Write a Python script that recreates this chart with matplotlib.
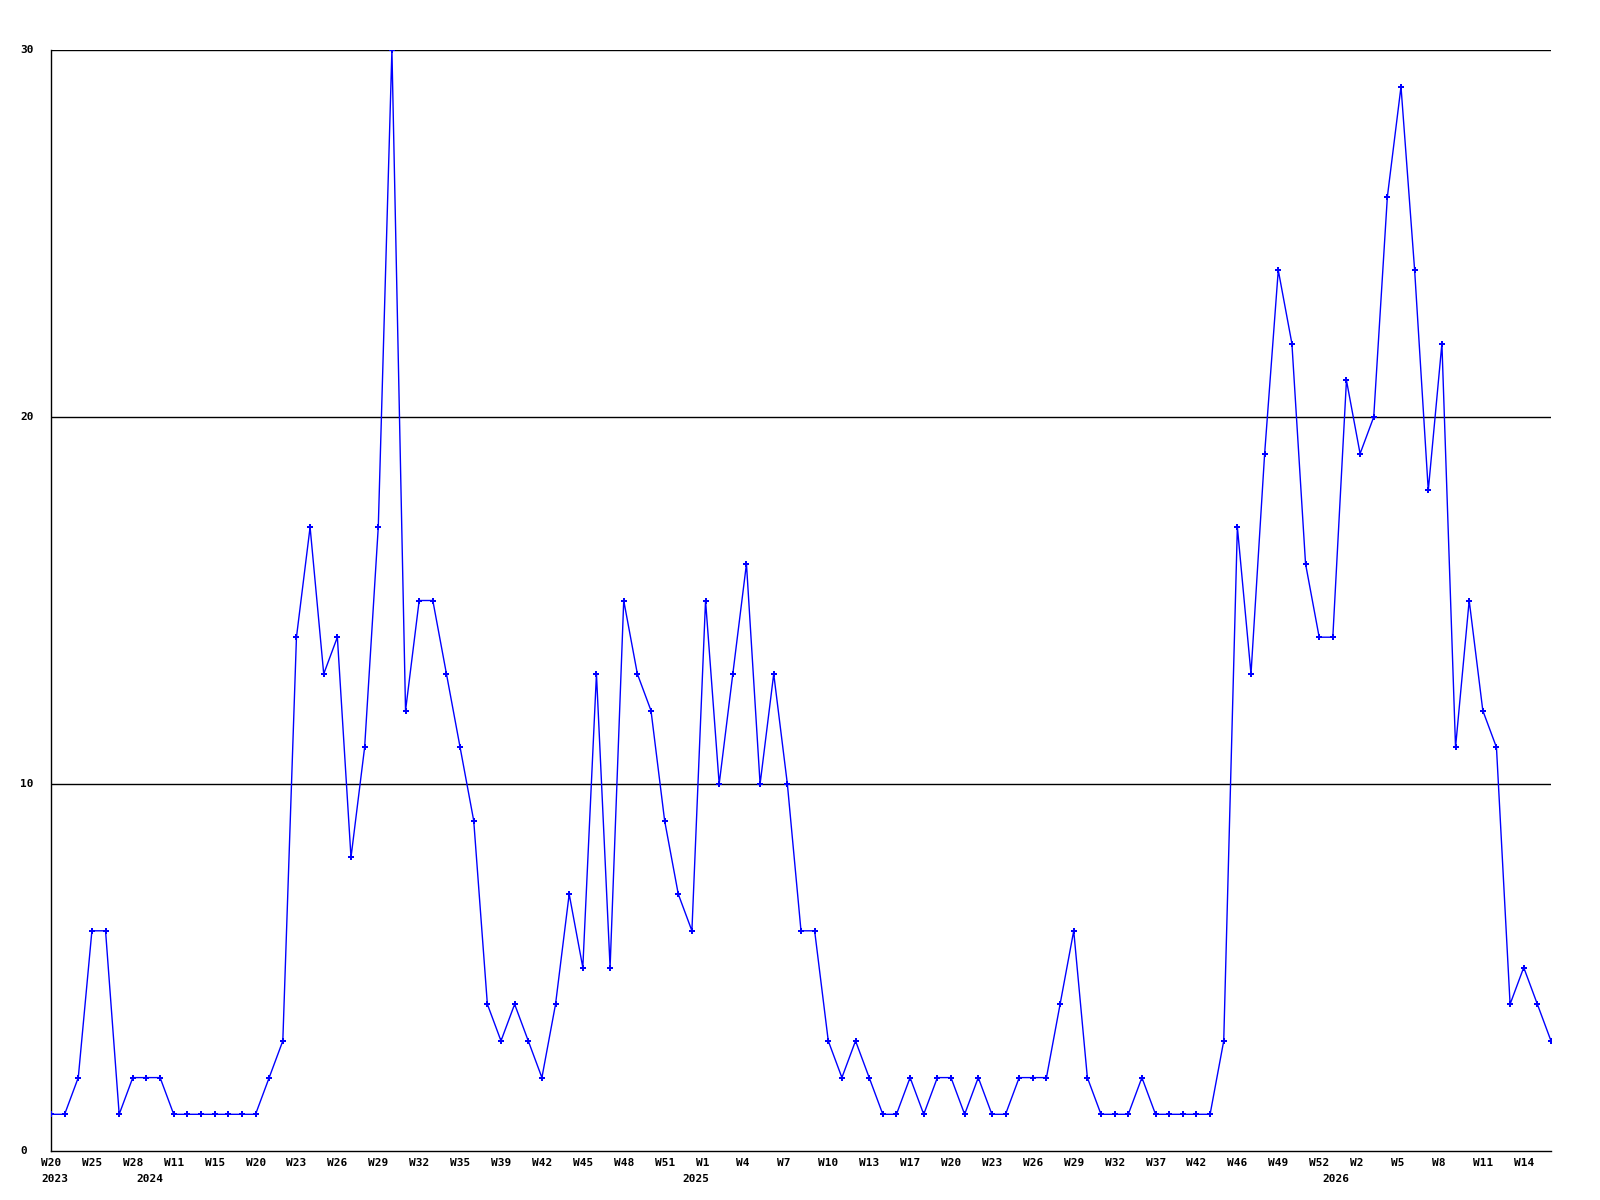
import matplotlib
matplotlib.use("Agg")
import matplotlib.pyplot as plt
from matplotlib.transforms import offset_copy

values = [1, 1, 2, 6, 6, 1, 2, 2, 2, 1,
          1, 1, 1, 1, 1, 1, 2, 3, 14, 17,
          13, 14, 8, 11, 17, 30, 12, 15, 15, 13,
          11, 9, 4, 3, 4, 3, 2, 4, 7, 5,
          13, 5, 15, 13, 12, 9, 7, 6, 15, 10,
          13, 16, 10, 13, 10, 6, 6, 3, 2, 3,
          2, 1, 1, 2, 1, 2, 2, 1, 2, 1,
          1, 2, 2, 2, 4, 6, 2, 1, 1, 1,
          2, 1, 1, 1, 1, 1, 3, 17, 13, 19,
          24, 22, 16, 14, 14, 21, 19, 20, 26, 29,
          24, 18, 22, 11, 15, 12, 11, 4, 5, 4,
          3]

week_labels = ["W20", "W25", "W28", "W11", "W15", "W20", "W23", "W26", "W29",
               "W32", "W35", "W39", "W42", "W45", "W48", "W51", "W1", "W4",
               "W7", "W10", "W13", "W17", "W20", "W23", "W26", "W29", "W32",
               "W37", "W42", "W46", "W49", "W52", "W2", "W5", "W8", "W11", "W14"]
label_step = 3

year_labels = ["2023", "2024", "2025", "2026"]
year_points = [0, 7, 47, 94]

y_ticks = [0, 10, 20, 30]

fig = plt.figure(figsize=(16, 12), dpi=100)
ax = fig.add_axes([51/1600, 1 - 1151/1200, 1500/1600, 1101/1200])

x = list(range(len(values)))
for t in y_ticks[1:]:
    ax.axhline(t, color="black", linewidth=1, zorder=1)

ax.plot(x, values, color="#0000ff", linewidth=1.0, marker="P",
        markersize=4, markeredgewidth=0, zorder=3)

ax.set_xlim(0, len(values) - 1)
ax.set_ylim(0, 30)
ax.set_xticks([])
ax.set_yticks([])
for s in ["top", "right"]:
    ax.spines[s].set_visible(False)
for s in ["left", "bottom"]:
    ax.spines[s].set_color("black")
    ax.spines[s].set_linewidth(1)

font = dict(family="DejaVu Sans Mono", weight="bold", fontsize=8)

tr_w = offset_copy(ax.get_xaxis_transform(), fig=fig, x=-10, y=-15, units="dots")
for k, lab in enumerate(week_labels):
    ax.text(k * label_step, 0, lab, transform=tr_w, ha="left", va="baseline",
            clip_on=False, **font)

tr_y = offset_copy(ax.get_xaxis_transform(), fig=fig, x=-10, y=-31, units="dots")
for lab, p in zip(year_labels, year_points):
    ax.text(p, 0, lab, transform=tr_y, ha="left", va="baseline",
            clip_on=False, **font)

tr_l = offset_copy(ax.get_yaxis_transform(), fig=fig, x=-31, y=0, units="dots")
for t in y_ticks:
    ax.text(0, t, str(t), transform=tr_l, ha="left", va="center",
            clip_on=False, **font)

fig.savefig("out.png", dpi=100, facecolor="white")
